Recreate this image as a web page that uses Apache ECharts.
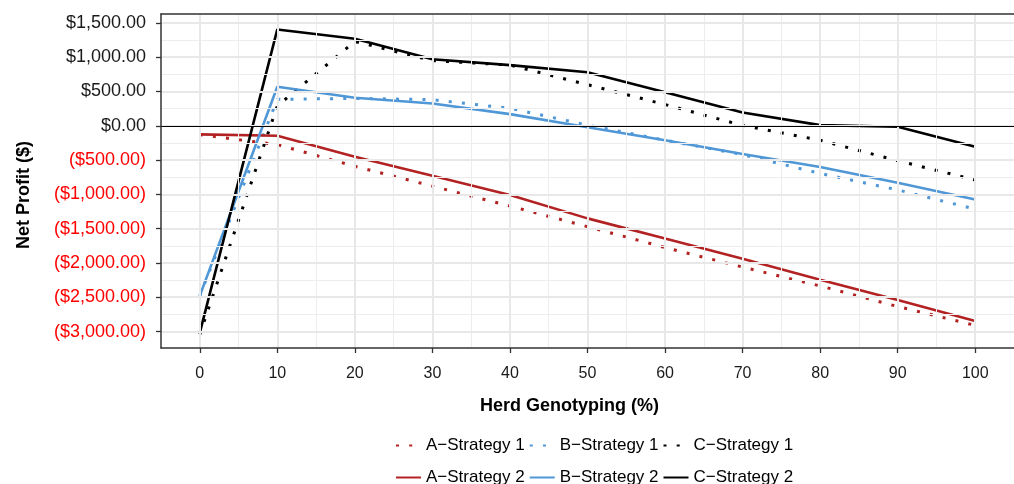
<!DOCTYPE html>
<html><head><meta charset="utf-8">
<script src="https://cdn.jsdelivr.net/npm/echarts@6/dist/echarts.min.js"></script>
<style>html,body{margin:0;padding:0;background:#fff}#c{width:1014px;height:484px}</style>
</head><body><div id="c"></div>
<script>
// ---- data ----
const genotyping = [0, 10, 20, 30, 40, 50, 60, 70, 80, 90, 100];
const aStrategy1 = [-130, -275, -590, -880, -1170, -1470, -1775, -2060, -2335, -2635, -2910];
const aStrategy2 = [-125, -145, -450, -730, -1010, -1350, -1645, -1940, -2245, -2540, -2845];
const bStrategy1 = [-2480, 385, 400, 380, 255, 10, -210, -420, -695, -935, -1215];
const bStrategy2 = [-2480, 570, 410, 325, 170, -20, -210, -412, -600, -830, -1075];
const cStrategy1 = [-3040, 290, 1230, 950, 885, 600, 310, 5, -210, -510, -790];
const cStrategy2 = [-3020, 1405, 1270, 970, 885, 780, 490, 195, 10, -15, -305];
const xTicks = [0, 10, 20, 30, 40, 50, 60, 70, 80, 90, 100];
const xMinor = [5, 15, 25, 35, 45, 55, 65, 75, 85, 95];
const yTicks = [-3000, -2500, -2000, -1500, -1000, -500, 0, 500, 1000, 1500];
const yMinor = [-2750, -2250, -1750, -1250, -750, -250, 250, 750, 1250];
const seriesNames = ['A\u2212Strategy 1', 'B\u2212Strategy 1', 'C\u2212Strategy 1',
                     'A\u2212Strategy 2', 'B\u2212Strategy 2', 'C\u2212Strategy 2'];

// ---- styling ----
const FONT = '"Liberation Sans", Arial, Helvetica, sans-serif';
const RED = '#b22222', BLUE = '#4f97d6', BLACK = '#000000';
const DOT = [3, 10.2];

function money(v) {
  const s = '$' + Math.abs(v).toLocaleString('en-US', {minimumFractionDigits: 2, maximumFractionDigits: 2});
  return v < 0 ? '(' + s + ')' : s;
}
function mk(name, vals, color, dotted) {
  return {
    name, type: 'line', symbol: 'none', z: 3,
    data: genotyping.map((x, i) => [x, vals[i]]),
    lineStyle: {color, width: dotted ? 3 : 2.6, type: dotted ? DOT : 'solid', cap: 'butt'},
    itemStyle: {color},
    emphasis: {disabled: true}
  };
}
const gridLines = [];
xMinor.forEach(v => gridLines.push({xAxis: v, lineStyle: {color: '#ededed', width: 1, type: 'solid'}}));
yMinor.forEach(v => gridLines.push({yAxis: v, lineStyle: {color: '#ededed', width: 1, type: 'solid'}}));
xTicks.forEach(v => gridLines.push({xAxis: v, lineStyle: {color: '#e8e8e8', width: 2, type: 'solid'}}));
yTicks.forEach(v => gridLines.push({yAxis: v, lineStyle: {color: '#e8e8e8', width: 2, type: 'solid'}}));

const zeroLine = {
  name: 'zero', type: 'line', data: [], z: 2, silent: true,
  markLine: {silent: true, symbol: ['none', 'none'], label: {show: false}, animation: false,
    emphasis: {disabled: true},
    data: [{yAxis: 0, lineStyle: {color: '#000', width: 1.2, type: 'solid'}}]}
};
const gridSeries = {
  name: 'grid', type: 'line', data: [], z: 1, silent: true,
  markLine: {silent: true, symbol: ['none', 'none'], label: {show: false}, animation: false,
    emphasis: {disabled: true}, data: gridLines}
};

const legendBase = {
  left: 390, itemWidth: 25, itemHeight: 14, itemGap: 4, selectedMode: false,
  textStyle: {fontSize: 17, color: '#000', fontFamily: FONT},
  itemStyle: {opacity: 0}
};

const chart = echarts.init(document.getElementById('c'), null, {renderer: 'canvas'});
chart.setOption({
  animation: false,
  backgroundColor: '#fff',
  textStyle: {fontFamily: FONT},
  grid: {left: 161, top: 14, width: 863.5, height: 334, show: false},
  xAxis: [{
    type: 'value', min: -5, max: 105, z: 10,
    name: 'Herd Genotyping (%)', nameLocation: 'middle', nameGap: 49,
    nameTextStyle: {fontSize: 18, fontWeight: 'bold', color: '#000', fontFamily: FONT, padding: [0, 36, 0, 0]},
    axisLine: {show: true, onZero: false, lineStyle: {color: '#333', width: 1.5}},
    axisTick: {show: true, length: 5, customValues: xTicks, lineStyle: {color: '#333', width: 1.3}},
    axisLabel: {customValues: xTicks, margin: 18, fontSize: 16, color: '#1a1a1a', fontFamily: FONT},
    splitLine: {show: false}
  }, {
    type: 'value', min: -5, max: 105, position: 'top', z: 10,
    axisLine: {show: true, onZero: false, lineStyle: {color: '#333', width: 1.5}},
    axisTick: {show: false}, axisLabel: {show: false}, splitLine: {show: false}
  }],
  yAxis: {
    type: 'value', min: -3240, max: 1630, z: 10,
    name: 'Net Profit ($)', nameLocation: 'middle', nameGap: 128,
    nameTextStyle: {fontSize: 18, fontWeight: 'bold', color: '#000', fontFamily: FONT, padding: [0, 28, 0, 0]},
    axisLine: {show: true, onZero: false, lineStyle: {color: '#333', width: 1.5}},
    axisTick: {show: true, length: 5, customValues: yTicks, lineStyle: {color: '#333', width: 1.3}},
    axisLabel: {customValues: yTicks, margin: 15, fontSize: 18, fontFamily: FONT,
      formatter: money, color: v => (v < 0 ? '#ff0000' : '#1a1a1a')},
    splitLine: {show: false}
  },
  legend: [
    Object.assign({}, legendBase, {top: 432, data: seriesNames.slice(0, 3)}),
    Object.assign({}, legendBase, {top: 464, data: seriesNames.slice(3, 6)})
  ],
  series: [
    gridSeries,
    zeroLine,
    mk(seriesNames[0], aStrategy1, RED, true),
    mk(seriesNames[1], bStrategy1, BLUE, true),
    mk(seriesNames[2], cStrategy1, BLACK, true),
    mk(seriesNames[3], aStrategy2, RED, false),
    mk(seriesNames[4], bStrategy2, BLUE, false),
    mk(seriesNames[5], cStrategy2, BLACK, false)
  ]
});
</script></body></html>
